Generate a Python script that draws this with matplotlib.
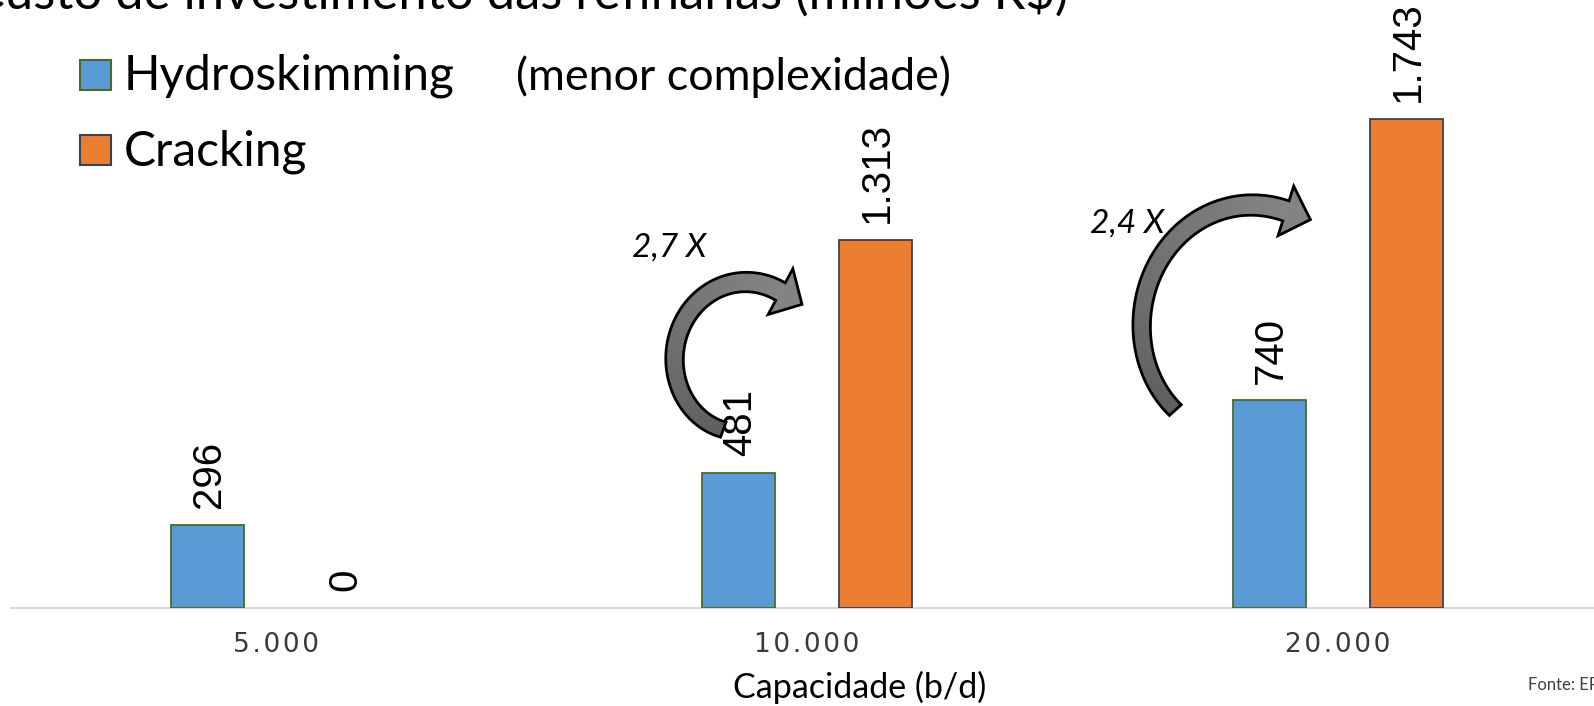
import numpy as np
import matplotlib
matplotlib.use("Agg")
import matplotlib.pyplot as plt
from matplotlib.patches import Polygon, Rectangle
import matplotlib.colors as mcolors

# ---- data -------------------------------------------------------------
capacities = ["5.000", "10.000", "20.000"]
series_names = ["Hydroskimming", "Cracking"]
hydroskimming = [296, 481, 740]
cracking = [0, 1313, 1743]
label_texts_h = ["296", "481", "740"]
label_texts_c = ["0", "1.313", "1.743"]
ratio_labels = ["2,7 X", "2,4 X"]

colors = ["#5b9bd5", "#ed7d31"]
edge_colors = ["#4a6a2c", "#3a4350"]

W, H = 1594, 706
DPI = 100
fig = plt.figure(figsize=(W / DPI, H / DPI), dpi=DPI)
fig.patch.set_facecolor("white")

ax = fig.add_axes([10.5 / W, 98 / H, 1592.5 / W, 608 / H])
ax.set_xlim(-0.5, 2.5)
ax.set_ylim(0, 2167)

x = np.arange(len(capacities))
bw = 0.1375
off = 0.129
for xs, vals, c, ec in ((x - off, hydroskimming, colors[0], edge_colors[0]),
                        (x + off, cracking, colors[1], edge_colors[1])):
    bars = ax.bar(xs, vals, bw, color=c, edgecolor=ec, linewidth=1.3, zorder=3)
    for b, v in zip(bars, vals):
        if v == 0:
            b.set_edgecolor("none")

# value labels, rotated
for xs, vals, texts in ((x - off, hydroskimming, label_texts_h),
                        (x + off, cracking, label_texts_c)):
    for xi, v, t in zip(xs, vals, texts):
        ax.annotate(t, (xi, v), xytext=(1, 12), textcoords="offset points",
                    rotation=90, ha="center", va="bottom", fontsize=29,
                    family="Liberation Sans", color="black")

# axes styling
for s in ("top", "left", "right"):
    ax.spines[s].set_visible(False)
ax.spines["bottom"].set_color("#d9d9d9")
ax.spines["bottom"].set_linewidth(1.6)
ax.set_yticks([])
spaced = ["\u200a".join(list(c)) for c in capacities]
ax.set_xticks(x, spaced)
ax.tick_params(axis="x", length=0, pad=17, labelsize=19, labelcolor="#3a3a3a")
for lab in ax.get_xticklabels():
    lab.set_family(["DejaVu Sans"])

ax.set_xlabel("Capacidade (b/d)", fontsize=24.5, family="Lato", color="black")
ax.xaxis.set_label_coords((860 - 10.5) / 1592.5, (19 - 98) / 608)
ax.xaxis.label.set_va("center")

# title (runs off the top edge) and subtitle
fig.text(1068 / W, 1 - 9 / H, "Custo de investimento das refinarias (milhões R$)",
         ha="right", va="baseline", fontsize=36.5, family="Lato", color="black")
fig.text(516 / W, 1 - 90 / H, "(menor complexidade)", ha="left", va="baseline",
         fontsize=32.3, family="Lato", color="black")

# legend drawn by hand
leg_rows = [90, 165]
for name, c, ec, base in zip(series_names, colors, edge_colors, leg_rows):
    fig.add_artist(Rectangle((80 / W, 1 - base / H), 31 / W, 30 / H,
                             transform=fig.transFigure, facecolor=c,
                             edgecolor=ec, linewidth=1.5))
    fig.text(124 / W, 1 - base / H, name, ha="left", va="baseline",
             fontsize=34.5, family="Lato", color="black")

fig.text(1528 / W, 1 - 690 / H, "Fonte: EPE", ha="left", va="baseline",
         fontsize=12, family="Lato", color="#404040")


def px_to_data(px, py):
    return ((px - 276) / 531, (608 - py) * 2167 / 608)


def curved_arrow(center, rx, ry, a_tail, a_head, s_tail, w_tail, w_head,
                 head_half, head_len, c_tail, c_head):
    """Curved band arrow drawn in display pixels around a data-space center."""
    cx, cy = ax.transData.transform(center)
    th = np.radians(np.linspace(a_tail, a_head, 140))
    u = np.linspace(1.0, 0.0, th.size)          # 1 at tail, 0 at head
    s = 1.0 - (1.0 - s_tail) * u ** 3
    w = w_head + (w_tail - w_head) * u
    ox = cx + (rx * s + w / 2) * np.cos(th)
    oy = cy + (ry * s + w / 2) * np.sin(th)
    ix = cx + (rx * s - w / 2) * np.cos(th)
    iy = cy + (ry * s - w / 2) * np.sin(th)
    t = th[-1]
    mx, my = cx + rx * np.cos(t), cy + ry * np.sin(t)
    tx, ty = rx * np.sin(t), -ry * np.cos(t)
    n = np.hypot(tx, ty)
    tx, ty = tx / n, ty / n
    ux, uy = np.cos(t), np.sin(t)
    b1 = (mx + head_half * ux, my + head_half * uy)
    b2 = (mx - head_half * ux, my - head_half * uy)
    tip = (mx + head_len * tx, my + head_len * ty)
    inv = fig.transFigure.inverted()

    c0 = np.array(mcolors.to_rgb(c_tail))
    c1 = np.array(mcolors.to_rgb(c_head))
    for k in range(th.size - 1):
        f = k / (th.size - 2)
        col = c0 + (c1 - c0) * f
        quad = np.array([[ox[k], oy[k]], [ox[k + 1], oy[k + 1]],
                         [ix[k + 1], iy[k + 1]], [ix[k], iy[k]]])
        fig.add_artist(Polygon(inv.transform(quad), closed=True,
                               transform=fig.transFigure, facecolor=col,
                               edgecolor=col, linewidth=0.6))
    head = np.array([b1, tip, b2])
    fig.add_artist(Polygon(inv.transform(head), closed=True,
                           transform=fig.transFigure, facecolor=c1,
                           edgecolor="none"))
    outline = np.vstack([np.column_stack([ox, oy]), [b1, tip, b2],
                         np.column_stack([ix, iy])[::-1]])
    fig.add_artist(Polygon(inv.transform(outline), closed=True,
                           transform=fig.transFigure, facecolor="none",
                           edgecolor="black", linewidth=2.0))


# growth arrows between the two refinery types
curved_arrow(px_to_data(746, 362), 73, 80, 250, 61.6, 0.9, 16, 20, 26, 25,
             "#5e5e5e", "#838383")
curved_arrow(px_to_data(1252, 333), 114, 128, 222, 72.5, 0.9, 16, 21, 26, 26,
             "#5e5e5e", "#838383")

for (px, py), t in zip([(632, 257), (1090, 233)], ratio_labels):
    xd, yd = px_to_data(px, py)
    ax.text(xd, yd, t, ha="left", va="baseline", fontsize=24, style="italic",
            family="Lato", color="black")

fig.savefig("out.png", dpi=DPI, facecolor="white")
